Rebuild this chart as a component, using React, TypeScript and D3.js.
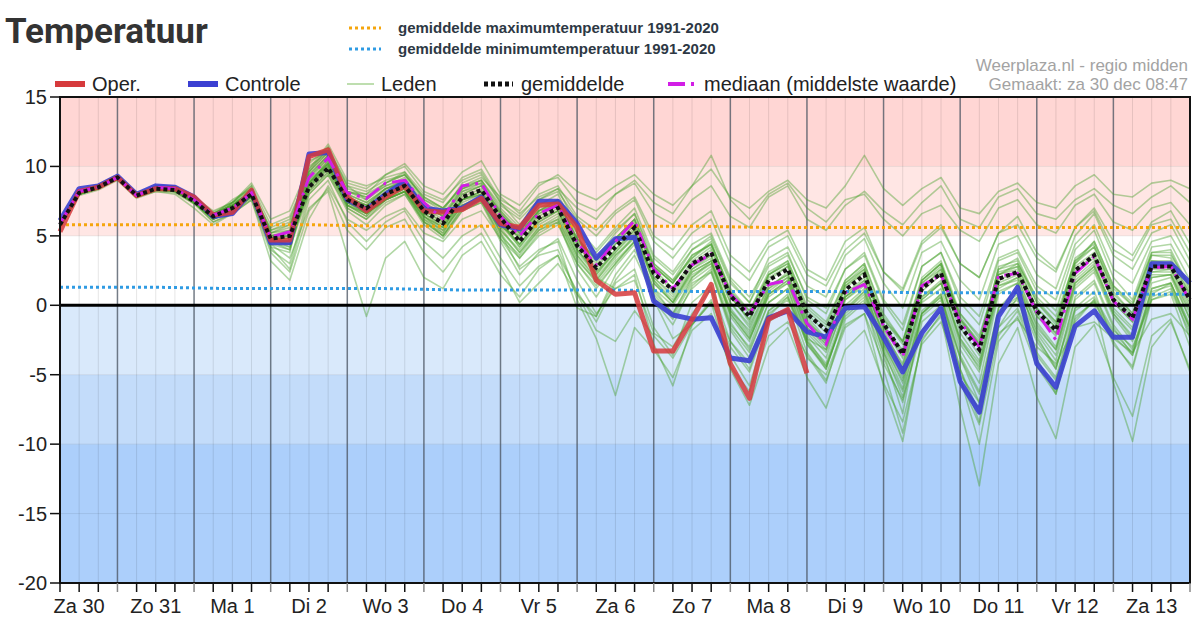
import * as d3 from "d3";

// 6-hourly steps from Za 30 06:00 up to Zo 14 00:00 (60 points)
const dayLabels = ["Za 30", "Zo 31", "Ma 1", "Di 2", "Wo 3", "Do 4", "Vr 5", "Za 6", "Zo 7", "Ma 8", "Di 9", "Wo 10", "Do 11", "Vr 12", "Za 13"];

const operValues = [5.3, 8.2, 8.5, 9.2, 7.9, 8.4, 8.4, 7.8, 6.5, 6.7, 8.3, 4.7, 4.7, 10.7, 11.2, 7.8, 6.8, 7.8, 8.6, 6.8, 6.7, 6.9, 7.7, 5.9, 5.6, 7.2, 7.3, 5.6, 1.8, 0.8, 0.9, -3.3, -3.3, -1.0, 1.5, -4.2, -6.7, -1.0, -0.3, -4.9];

const controleValues = [6.1, 8.4, 8.6, 9.3, 8.0, 8.6, 8.5, 7.8, 6.4, 6.6, 8.2, 4.5, 4.5, 10.9, 11.0, 7.6, 6.9, 8.0, 8.9, 7.0, 6.8, 7.0, 7.8, 5.8, 5.5, 7.5, 7.5, 5.9, 3.4, 4.8, 4.9, 0.3, -0.7, -1.0, -0.9, -3.8, -4.0, -0.9, -0.4, -1.9, -2.3, -0.2, -0.1, -2.3, -4.8, -2.0, -0.2, -5.5, -7.7, -0.8, 1.3, -4.2, -5.9, -1.5, -0.4, -2.3, -2.3, 3.0, 3.0, 1.6];

const gemiddeldeValues = [5.8, 8.1, 8.5, 9.2, 7.9, 8.4, 8.3, 7.5, 6.4, 7.0, 8.0, 4.8, 5.0, 8.5, 9.9, 7.6, 7.0, 8.0, 8.6, 6.8, 5.9, 7.8, 8.3, 6.3, 4.6, 6.3, 7.0, 4.3, 2.7, 4.2, 5.6, 2.3, 1.1, 3.0, 3.8, 0.7, -0.8, 1.8, 2.6, -0.6, -1.8, 1.1, 2.2, -1.3, -3.5, 1.2, 2.3, -1.5, -3.2, 1.9, 2.4, -0.4, -1.8, 2.5, 3.6, 0.4, -0.9, 2.8, 2.8, 0.4];

const mediaanValues = [5.9, 8.2, 8.5, 9.2, 7.9, 8.5, 8.4, 7.6, 6.5, 7.0, 8.1, 4.9, 5.3, 9.2, 10.6, 8.1, 7.7, 8.8, 9.0, 7.4, 6.2, 8.6, 8.8, 6.4, 5.0, 6.6, 7.2, 4.5, 2.9, 4.6, 6.1, 2.6, 1.2, 2.9, 3.7, 0.8, -0.6, 1.5, 1.8, -1.3, -2.8, 0.9, 1.5, -1.5, -3.7, 1.4, 2.2, -1.2, -3.0, 2.1, 2.3, -0.5, -2.5, 2.3, 3.5, 0.3, -1.0, 2.7, 2.8, 0.3];

// ensemble members (leden)
const leden = [
  [5.7, 8.0, 8.6, 9.3, 8.0, 8.5, 8.5, 7.6, 6.6, 7.2, 8.4, 5.2, 5.6, 10.2, 11.4, 8.6, 7.6, 8.8, 9.6, 8.0, 7.4, 9.2, 9.8, 7.6, 6.8, 8.6, 9.4, 8.2, 7.6, 8.6, 9.4, 8.0, 7.2, 8.6, 9.8, 7.8, 7.0, 8.2, 9.0, 7.6, 7.0, 8.6, 10.8, 8.4, 7.2, 8.4, 9.2, 7.0, 6.6, 8.2, 8.8, 7.4, 7.0, 8.6, 9.4, 8.0, 7.8, 8.8, 9.0, 8.4],
  [5.9, 8.2, 8.4, 9.1, 7.8, 8.3, 8.2, 7.4, 6.2, 7.4, 8.8, 6.2, 6.8, 10.0, 11.0, 8.2, 8.0, 9.4, 10.2, 8.6, 8.0, 9.6, 10.4, 8.0, 7.2, 8.8, 9.2, 7.4, 6.8, 8.0, 8.8, 6.6, 5.8, 7.6, 8.6, 6.4, 5.6, 7.8, 8.6, 6.2, 5.4, 7.2, 8.2, 6.8, 5.8, 7.4, 8.6, 6.2, 5.6, 7.8, 8.4, 6.6, 6.2, 7.6, 8.4, 7.2, 6.6, 7.8, 8.6, 7.4],
  [5.6, 8.2, 8.5, 9.2, 7.9, 8.4, 8.4, 7.7, 6.4, 6.8, 8.2, 4.6, 4.4, 10.4, 11.0, 7.6, 6.6, 7.6, 8.4, 6.6, 6.6, 7.0, 7.8, 5.6, 5.0, 6.8, 7.2, 5.2, 2.0, 1.2, 1.8, -2.0, -3.0, -0.6, 1.2, -3.6, -5.8, -1.2, -0.2, -3.8, -5.0, -1.4, -0.6, -4.2, -6.8, -1.8, -0.4, -5.6, -7.4, -1.6, 0.6, -3.6, -5.4, -0.8, 0.2, -2.2, -3.6, 0.8, 1.6, -1.4],
  [5.8, 8.1, 8.6, 9.3, 8.0, 8.6, 8.5, 7.4, 6.2, 7.4, 8.6, 4.2, 3.8, 9.6, 11.4, 7.2, 6.4, 8.2, 9.0, 7.2, 6.4, 8.4, 8.8, 6.6, 5.2, 6.8, 7.6, 4.8, 3.2, 4.8, 6.2, 2.8, 1.6, 3.4, 4.6, 0.8, -1.2, 2.2, 3.0, -1.0, -2.6, 1.6, 2.8, -1.8, -4.4, 1.8, 3.0, -1.0, -3.0, 2.8, 3.2, 0.2, -1.4, 3.4, 4.4, 1.0, -0.6, 3.6, 3.4, 0.8],
  [6.0, 8.3, 8.4, 9.1, 7.8, 8.2, 8.1, 7.3, 6.5, 7.6, 8.4, 5.4, 5.8, 8.8, 10.4, 8.0, 7.4, 8.4, 9.0, 6.4, 5.2, 7.6, 8.2, 6.0, 4.2, 6.0, 6.8, 3.8, 2.2, 4.0, 5.6, 1.6, 0.2, 2.6, 3.4, -0.4, -2.2, 1.0, 2.0, -1.8, -3.2, 0.6, 1.8, -2.6, -5.2, 0.4, 1.6, -2.4, -4.6, 1.2, 2.0, -1.6, -3.2, 1.6, 2.8, -0.6, -2.2, 2.0, 2.2, -0.6],
  [5.7, 7.9, 8.3, 9.0, 7.7, 8.2, 8.0, 7.0, 5.8, 6.6, 7.6, 3.2, 1.8, 6.2, 8.6, 6.2, 5.4, 6.4, 7.0, 5.2, 4.6, 6.2, 6.8, 4.8, 3.4, 5.0, 5.8, 3.0, 1.4, 3.0, 4.6, 1.2, 0.0, 2.0, 3.0, -0.6, -2.4, 0.6, 1.6, -2.2, -3.8, 0.4, 1.4, -3.0, -6.0, 0.2, 1.2, -3.2, -5.6, 0.8, 1.6, -2.0, -4.0, 1.2, 2.4, -0.8, -2.6, 1.6, 2.0, -1.0],
  [5.8, 8.0, 8.5, 9.2, 7.9, 8.4, 8.3, 7.6, 6.6, 7.2, 8.2, 4.4, 3.4, 7.0, 8.2, 3.6, -0.8, 3.4, 4.6, 2.0, 1.2, 3.6, 4.6, 2.2, 0.6, 2.6, 3.6, 1.0, -1.2, 1.6, 2.6, -1.6, -3.6, 0.2, 1.4, -2.6, -4.6, -0.4, 0.8, -2.8, -4.4, -0.6, 0.6, -3.4, -6.2, -0.8, 0.4, -3.8, -6.4, -0.4, 0.6, -2.6, -4.6, 0.6, 1.8, -1.4, -3.2, 1.2, 1.6, -1.6],
  [5.9, 8.2, 8.7, 9.4, 8.1, 8.6, 8.6, 7.8, 6.8, 7.4, 8.0, 5.6, 6.2, 9.8, 11.6, 9.0, 8.6, 9.2, 9.6, 7.6, 6.8, 8.8, 9.4, 7.4, 5.8, 7.6, 8.4, 5.6, 4.0, 5.6, 7.0, 3.6, 2.4, 4.4, 5.2, 2.0, 0.6, 3.0, 3.8, 0.4, -0.6, 2.6, 3.6, 0.2, -1.8, 2.8, 3.8, 0.2, -1.4, 3.2, 3.8, 1.0, -0.4, 4.0, 5.4, 2.0, 0.4, 4.2, 4.4, 1.8],
  [5.6, 8.1, 8.4, 9.1, 7.8, 8.3, 8.4, 7.5, 6.2, 6.8, 8.0, 4.8, 4.2, 9.0, 10.2, 7.0, 6.2, 7.6, 8.2, 6.0, 5.0, 7.0, 7.6, 4.8, 2.8, 4.0, 4.6, 0.4, -2.4, -6.5, -1.6, -3.2, -5.2, -1.8, -0.6, -4.4, -6.2, -2.2, -1.2, -3.6, -5.6, -1.0, 0.2, -3.8, -7.0, -1.2, 0.0, -4.6, -7.8, -1.6, -0.2, -3.4, -5.2, -0.4, 0.6, -1.8, -3.0, 0.4, 1.0, -2.0],
  [5.8, 8.2, 8.6, 9.3, 8.0, 8.5, 8.4, 7.6, 6.4, 7.0, 8.2, 5.0, 5.4, 9.4, 10.8, 8.4, 8.0, 8.8, 9.4, 7.6, 7.0, 8.6, 9.2, 7.8, 6.6, 7.8, 8.4, 7.0, 6.2, 8.0, 9.0, 7.4, 6.6, 8.6, 10.8, 7.6, 6.2, 8.0, 8.8, 7.0, 6.0, 7.6, 8.0, 6.2, 5.0, 6.6, 7.2, 5.4, 4.6, 7.0, 7.6, 5.8, 5.2, 7.2, 8.0, 6.0, 5.4, 7.0, 7.4, 5.8],
  [5.7, 8.1, 8.5, 9.2, 7.9, 8.4, 8.2, 7.3, 6.0, 6.6, 7.8, 4.0, 3.0, 8.0, 9.4, 6.8, 5.8, 7.2, 8.0, 5.8, 4.8, 6.8, 7.4, 5.0, 3.6, 5.4, 6.0, 2.6, 0.6, 2.8, 4.4, 0.4, -1.4, 1.4, 2.6, -1.6, -3.4, 0.2, 1.2, -2.6, -4.2, -0.2, 1.0, -3.4, -7.8, -0.4, 0.8, -4.6, -8.4, -0.6, 0.4, -3.8, -6.4, -0.2, 1.0, -2.6, -4.6, 0.4, 0.8, -3.0],
  [5.8, 8.0, 8.4, 9.1, 7.8, 8.3, 8.2, 7.4, 6.2, 6.8, 7.8, 4.6, 4.0, 8.8, 10.0, 7.2, 6.4, 7.6, 8.2, 6.2, 5.4, 7.2, 7.8, 5.4, 4.0, 5.6, 6.2, 3.4, 1.6, 3.2, 4.6, 0.8, -0.8, 1.6, 2.4, -1.8, -3.8, -0.4, 0.6, -3.4, -5.4, -1.6, -0.6, -5.8, -9.8, -2.4, -0.8, -7.4, -13.0, -4.2, -1.6, -6.6, -9.6, -3.0, -1.4, -5.2, -8.0, -2.2, -1.0, -4.8],
  [5.9, 8.2, 8.6, 9.2, 7.9, 8.5, 8.4, 7.6, 6.6, 7.4, 8.6, 5.8, 6.4, 9.6, 11.0, 8.6, 8.2, 9.0, 9.4, 7.8, 7.0, 8.6, 9.0, 6.8, 5.2, 6.8, 7.6, 4.6, 3.4, 5.2, 6.6, 3.0, 1.8, 4.0, 5.0, 1.8, 0.2, 3.4, 4.2, 1.4, 0.6, 3.6, 4.8, 1.6, -0.2, 3.8, 4.6, 1.8, 0.4, 4.4, 5.0, 2.2, 1.2, 5.0, 6.6, 3.6, 2.6, 5.2, 5.8, 3.2],
  [5.6, 8.0, 8.4, 9.1, 7.8, 8.3, 8.3, 7.5, 6.3, 6.9, 7.9, 4.7, 4.6, 8.4, 10.0, 7.6, 6.8, 7.8, 8.4, 6.4, 5.6, 7.4, 8.0, 5.8, 4.4, 6.2, 7.0, 4.0, 2.4, 3.8, 5.4, 2.0, 0.8, 2.8, 3.6, 0.2, -1.4, 1.4, 2.2, -1.2, -2.8, 0.8, 2.0, -1.6, -3.2, 1.6, 2.6, -1.0, -2.6, 2.4, 2.8, -0.2, -1.6, 2.8, 3.8, 0.6, -0.8, 3.0, 2.8, 0.4],
  [5.8, 8.1, 8.5, 9.2, 7.9, 8.4, 8.3, 7.5, 6.5, 7.1, 8.1, 4.9, 5.0, 8.6, 10.2, 7.8, 7.2, 8.4, 8.8, 6.6, 5.8, 7.6, 8.0, 5.2, 2.6, 3.6, 4.0, 0.8, -1.8, -2.6, -0.4, -2.2, -3.8, -1.4, 0.2, -2.6, -4.2, -0.6, 0.4, -2.4, -3.2, 0.8, 1.8, -1.0, -2.6, 1.2, 2.6, -0.6, -2.2, 2.2, 2.6, -0.8, -2.0, 2.0, 3.2, 0.2, -1.2, 2.4, 2.6, 0.0],
  [5.7, 8.2, 8.6, 9.3, 8.0, 8.5, 8.4, 7.6, 6.4, 7.0, 8.0, 4.4, 4.0, 9.2, 10.8, 7.4, 6.6, 7.8, 8.6, 6.8, 6.0, 8.0, 8.6, 6.4, 4.8, 6.6, 7.2, 4.2, 2.8, 4.4, 5.8, 2.6, 1.2, 3.2, 4.2, 0.6, -1.0, 1.8, 2.8, -0.8, -2.4, 1.2, 2.4, -1.4, -3.6, 1.0, 2.2, -2.0, -4.0, 1.6, 2.2, -0.6, -2.0, 2.6, 3.6, 0.4, -1.0, 3.2, 3.0, 0.6],
  [5.8, 8.1, 8.5, 9.2, 7.9, 8.4, 8.3, 7.4, 6.2, 6.8, 7.8, 4.2, 2.6, 7.6, 9.0, 6.0, 4.6, 6.0, 6.8, 4.6, 3.4, 5.0, 5.8, 3.4, 1.4, 2.8, 3.6, -0.2, -0.8, 1.8, 3.6, 0.6, -1.0, 1.2, 2.4, -1.4, -3.0, 0.8, 1.8, -1.6, -3.0, 0.6, 1.6, -2.2, -4.8, 0.6, 1.8, -2.6, -4.4, 1.4, 2.0, -1.2, -3.0, 1.8, 3.0, -0.4, -1.8, 2.4, 2.4, -0.2],
  [5.9, 8.2, 8.5, 9.2, 7.9, 8.4, 8.4, 7.6, 6.6, 7.2, 8.2, 5.2, 5.8, 9.6, 11.0, 8.2, 7.6, 8.6, 9.0, 7.2, 6.4, 8.2, 8.6, 6.8, 5.4, 7.0, 7.6, 4.8, 3.4, 4.8, 6.2, 3.0, 1.8, 3.4, 4.4, 1.2, -0.4, 2.4, 3.2, 0.0, -1.2, 1.8, 3.0, -0.6, -2.6, 2.0, 3.2, -0.6, -2.4, 2.6, 3.0, 0.6, -0.8, 3.2, 4.2, 1.2, 0.0, 3.6, 3.6, 1.4],
  [5.7, 8.1, 8.4, 9.1, 7.8, 8.3, 8.2, 7.4, 6.2, 6.8, 7.8, 4.6, 4.4, 8.2, 9.6, 7.2, 6.6, 7.6, 8.2, 6.0, 5.2, 7.2, 7.6, 5.4, 3.8, 5.4, 6.2, 3.2, 1.8, 3.6, 4.8, 0.4, -2.4, -1.4, 0.2, -4.6, -7.2, -3.0, -1.6, -5.2, -7.4, -3.2, -1.8, -5.6, -8.4, -2.8, -1.2, -5.0, -7.0, -2.0, -1.0, -3.0, -4.2, -1.6, -1.2, -2.4, -3.4, -1.0, -0.6, -2.2],
  [5.8, 8.0, 8.5, 9.2, 7.9, 8.4, 8.3, 7.5, 6.4, 7.0, 8.0, 4.8, 4.8, 8.8, 10.2, 7.4, 6.6, 7.8, 8.4, 6.2, 5.0, 6.8, 7.4, 4.6, 2.2, 3.8, 4.8, 1.8, -0.6, 1.2, 2.2, -2.8, -5.8, -1.4, 0.4, -3.0, -4.8, -0.8, 0.6, -2.6, -4.6, -0.4, 1.0, -2.8, -5.4, -0.6, 0.8, -3.6, -6.2, -0.2, 1.2, -1.8, -3.6, 1.4, 2.6, -0.6, -2.4, 2.0, 2.2, -1.0],
  [5.8, 8.1, 8.6, 9.2, 8.0, 8.5, 8.5, 7.7, 6.7, 7.4, 8.4, 5.4, 6.0, 9.8, 11.2, 8.8, 8.4, 9.4, 10.0, 8.2, 7.6, 9.0, 9.6, 7.4, 6.4, 8.0, 8.6, 6.4, 5.4, 6.8, 7.8, 5.0, 4.0, 5.8, 6.8, 3.6, 2.4, 4.6, 5.4, 2.6, 1.8, 4.6, 5.6, 2.4, 1.0, 4.4, 5.6, 3.0, 2.0, 5.2, 5.8, 3.4, 2.4, 5.6, 6.8, 4.0, 3.2, 5.8, 6.2, 3.8],
  [5.7, 8.0, 8.4, 9.1, 7.8, 8.3, 8.3, 7.5, 6.3, 6.9, 7.9, 4.7, 4.4, 8.6, 9.8, 7.4, 6.8, 7.6, 8.2, 6.4, 5.6, 7.6, 8.0, 5.8, 4.2, 5.8, 6.6, 3.6, 2.0, 3.6, 5.0, 1.8, 0.4, 2.4, 3.2, -0.2, -2.0, 0.8, 1.8, -2.0, -3.4, 0.0, 1.2, -2.8, -5.6, -0.6, 0.6, -5.2, -10.0, -2.6, -0.8, -4.4, -6.4, -1.2, 0.4, -2.8, -4.4, 0.6, 1.2, -1.6],
  [5.9, 8.2, 8.5, 9.2, 7.9, 8.4, 8.4, 7.6, 6.6, 7.2, 8.2, 5.0, 5.2, 9.0, 10.6, 8.0, 7.4, 8.4, 8.8, 7.0, 6.2, 8.0, 8.6, 6.6, 5.0, 6.6, 7.4, 4.6, 3.0, 4.6, 6.0, 2.8, 1.6, 3.6, 4.4, 1.0, -0.6, 2.2, 3.0, -0.4, -1.6, 1.6, 2.6, -1.0, -2.8, 1.6, 2.8, -1.2, -2.8, 2.2, 2.8, -0.2, -1.6, 3.0, 4.2, 0.8, -0.6, 3.2, 3.2, 0.8],
  [5.8, 8.1, 8.5, 9.2, 7.9, 8.4, 8.3, 7.5, 6.4, 7.0, 8.0, 4.8, 4.6, 8.4, 9.8, 7.6, 6.8, 8.0, 8.6, 6.6, 5.8, 7.6, 8.2, 6.0, 4.4, 6.2, 6.8, 4.0, 2.4, 4.0, 5.4, 2.0, 0.6, 2.6, 3.6, 0.2, -1.6, 1.4, 2.2, -1.6, -2.8, 0.6, 1.6, -2.0, -4.2, 0.6, 1.6, -2.4, -4.2, 1.4, 1.8, -2.4, -4.4, -0.2, 0.2, -5.6, -9.8, -3.0, -1.2, -4.6],
  [5.8, 8.1, 8.5, 9.2, 7.9, 8.4, 8.3, 7.5, 6.3, 6.9, 7.9, 4.6, 4.6, 8.2, 9.6, 7.2, 6.6, 7.6, 8.2, 6.4, 5.4, 7.2, 7.8, 5.6, 3.8, 5.6, 6.4, 3.6, 1.8, 3.4, 5.0, 1.6, 0.2, 2.2, 3.0, -0.4, -1.8, 1.2, 2.0, -1.4, -2.6, 0.4, 1.6, -2.2, -4.6, 0.4, 1.6, -2.8, -4.8, 1.0, 1.6, -1.4, -3.2, 1.6, 2.8, -0.2, -1.6, 2.2, 2.2, -0.4],
  [5.9, 8.2, 8.6, 9.3, 8.0, 8.5, 8.4, 7.7, 6.6, 7.2, 8.2, 5.2, 5.4, 9.4, 10.8, 8.2, 7.8, 8.6, 9.2, 7.4, 6.6, 8.4, 9.0, 7.0, 5.6, 7.2, 8.0, 5.2, 3.8, 5.4, 6.6, 3.4, 2.2, 4.0, 4.8, 1.6, 0.2, 2.8, 3.6, 0.6, -0.2, 2.6, 3.8, 0.4, -1.4, 2.8, 3.8, 0.6, -0.8, 3.4, 4.0, 1.4, 0.4, 4.4, 5.8, 2.6, 1.6, 4.6, 5.0, 2.6],
  [5.7, 8.0, 8.4, 9.1, 7.8, 8.3, 8.2, 7.4, 6.0, 6.6, 7.6, 3.8, 2.4, 6.8, 8.4, 5.4, 4.0, 5.6, 6.2, 3.8, 2.4, 4.2, 5.2, 2.8, 0.2, 1.6, 3.0, 0.8, -0.8, 2.2, 4.0, 1.0, -0.6, 2.0, 3.2, -0.8, -2.6, 1.2, 2.4, -1.2, -2.4, 1.4, 2.6, -1.6, -3.8, 1.8, 3.0, -0.8, -2.8, 2.6, 3.4, 0.4, -1.2, 3.0, 4.6, 1.4, 0.0, 3.8, 4.0, 1.2],
  [5.8, 8.2, 8.5, 9.2, 7.9, 8.4, 8.4, 7.6, 6.5, 7.1, 8.1, 5.0, 5.2, 8.8, 10.4, 7.8, 7.2, 8.2, 8.8, 6.8, 6.0, 7.8, 8.4, 6.2, 4.8, 6.4, 7.2, 4.4, 2.6, 4.4, 5.8, 2.4, 1.0, 3.0, 4.0, 0.6, -1.0, 2.0, 2.8, -0.6, -2.0, 1.4, 2.4, -1.4, -3.4, 1.4, 2.4, -1.6, -3.6, 1.8, 2.4, -0.8, -2.2, 2.4, 3.4, 0.2, -1.2, 2.6, 2.6, 0.2],
  [5.8, 8.1, 8.5, 9.2, 7.9, 8.4, 8.3, 7.5, 6.4, 7.0, 8.0, 4.8, 4.8, 8.6, 10.0, 7.6, 7.0, 8.0, 8.6, 6.6, 5.6, 7.6, 8.2, 6.0, 4.4, 6.0, 6.8, 4.0, 2.2, 3.8, 5.2, 1.8, 0.2, 2.4, 3.2, -0.6, -2.4, 0.8, 1.6, -2.4, -4.4, -0.8, 0.4, -4.6, -9.2, -2.6, -0.6, -5.4, -8.6, -2.2, -0.4, -4.0, -6.2, -1.0, 0.4, -2.0, -3.4, 1.0, 1.4, -2.4],
  [5.9, 8.1, 8.6, 9.2, 8.0, 8.5, 8.4, 7.6, 6.5, 7.2, 8.2, 5.0, 5.0, 9.2, 10.6, 7.8, 7.2, 8.4, 9.0, 7.2, 6.4, 8.2, 8.8, 6.6, 5.2, 6.8, 7.4, 4.8, 3.2, 4.8, 6.2, 2.8, 1.6, 3.6, 4.4, 1.0, -0.4, 2.2, 3.2, -0.2, -1.4, 1.8, 3.0, -0.8, -2.6, 1.8, 3.0, -1.0, -2.8, 2.2, 3.0, 0.2, -1.2, 3.2, 4.6, 1.4, 0.2, 3.8, 3.8, 1.0],
  [5.7, 8.0, 8.5, 9.2, 7.9, 8.4, 8.3, 7.5, 6.4, 7.0, 8.0, 4.8, 5.0, 8.8, 10.2, 8.2, 7.8, 8.8, 9.4, 7.8, 7.0, 8.4, 9.0, 7.2, 6.2, 7.6, 8.2, 6.2, 5.0, 6.6, 7.6, 4.6, 3.4, 5.2, 6.2, 3.0, 1.8, 4.2, 5.0, 2.2, 1.4, 4.0, 5.2, 2.4, 1.2, 4.6, 5.8, 3.0, 2.0, 5.2, 6.4, 3.8, 2.6, 5.6, 7.0, 4.6, 3.6, 6.0, 6.8, 4.4],
  [5.8, 8.1, 8.5, 9.2, 7.9, 8.4, 8.3, 7.5, 6.3, 6.9, 7.9, 4.5, 4.2, 8.0, 9.4, 7.0, 6.2, 7.4, 8.0, 6.0, 5.0, 7.0, 7.6, 5.2, 3.4, 5.2, 6.0, 3.0, 1.2, 3.0, 4.6, 1.2, -0.6, 1.8, 2.8, -1.2, -3.2, 0.2, 1.2, -2.8, -4.6, -0.4, 0.8, -3.2, -6.6, -0.6, 0.6, -3.8, -7.0, -0.2, 0.8, -2.2, -4.6, 0.4, 1.6, -1.6, -3.6, 1.2, 1.6, -1.8],
];

// daily climate normals 1991-2020
const normaalMax = [5.8, 5.8, 5.8, 5.8, 5.7, 5.7, 5.7, 5.7, 5.7, 5.6, 5.6, 5.6, 5.6, 5.6, 5.6];
const normaalMin = [1.3, 1.3, 1.2, 1.2, 1.2, 1.1, 1.1, 1.1, 1.0, 1.0, 1.0, 0.9, 0.9, 0.9, 0.8];

const yTicks = [15, 10, 5, 0, -5, -10, -15, -20];

const BANDS: [number, number, string][] = [
  [10, 15, "#ffd6d4"],
  [5, 10, "#ffe6e4"],
  [0, 5, "#ffffff"],
  [-5, 0, "#d9e9fb"],
  [-10, -5, "#c3dcfa"],
  [-20, -10, "#accffb"],
];

const FONT = "'Liberation Sans', Arial, Helvetica, sans-serif";

export default function App() {
  const width = 1200;
  const height = 631;
  const steps = d3.range(60);

  const x = d3.scaleLinear().domain([0, 59]).range([60, 1190]);
  const y = d3.scaleLinear().domain([-20, 15]).range([583, 97]);

  const line = d3
    .line<number>()
    .x((_, i) => x(i))
    .y((d) => y(d));

  const normLine = d3
    .line<[number, number]>()
    .x((d) => x(d[0]))
    .y((d) => y(d[1]));

  const normPoints = (vals: number[]): [number, number][] => [
    [0, vals[0]],
    ...vals.map((v, k) => [1 + 4 * k, v] as [number, number]),
    [59, vals[vals.length - 1]],
  ];

  const dayBounds = d3.range(3, 59, 4);

  return (
    <div style={{ position: "absolute", left: 0, top: 0 }}>
      <svg width={width} height={height} style={{ display: "block", background: "#fff" }} fontFamily={FONT}>
        {/* title and climate legend */}
        <text x={5} y={43} fontFamily="Roboto, 'Liberation Sans', Arial" fontWeight={700} fontSize={35} fill="#333">
          Temperatuur
        </text>
        <line x1={349} x2={381} y1={28} y2={28} stroke="#f5a50c" strokeWidth={3} strokeDasharray="3 3" />
        <text x={398} y={33} fontSize={15} fontWeight={700} fill="#2d3844">
          gemiddelde maximumtemperatuur 1991-2020
        </text>
        <line x1={349} x2={381} y1={49} y2={49} stroke="#2f9be3" strokeWidth={3} strokeDasharray="3 3" />
        <text x={398} y={54} fontSize={15} fontWeight={700} fill="#2d3844">
          gemiddelde minimumtemperatuur 1991-2020
        </text>

        <text x={1188} y={71} fontSize={17} fill="#a3a3a3" textAnchor="end">
          Weerplaza.nl - regio midden
        </text>
        <text x={1188} y={90} fontSize={17} fill="#a3a3a3" textAnchor="end">
          Gemaakt: za 30 dec 08:47
        </text>

        {/* series legend */}
        <g fontSize={20} fill="#222">
          <line x1={55} x2={85} y1={84} y2={84} stroke="#d63a3c" strokeWidth={6} />
          <text x={92} y={91}>Oper.</text>
          <line x1={188} x2={218} y1={84} y2={84} stroke="#3b3fd2" strokeWidth={6} />
          <text x={225} y={91}>Controle</text>
          <line x1={347} x2={374} y1={84} y2={84} stroke="#a9d394" strokeWidth={1.5} />
          <text x={381} y={91}>Leden</text>
          <line x1={484} x2={513} y1={84} y2={84} stroke="#111" strokeWidth={5} strokeDasharray="4 3" />
          <text x={521} y={91}>gemiddelde</text>
          <line x1={668} x2={697} y1={84} y2={84} stroke="#d21ee6" strokeWidth={4} strokeDasharray="17 6 3 6" />
          <text x={704} y={91}>mediaan (middelste waarde)</text>
        </g>

        {/* temperature bands */}
        {BANDS.map(([lo, hi, c]) => (
          <rect key={lo} x={x(0)} y={y(hi)} width={x(59) - x(0)} height={y(lo) - y(hi)} fill={c} />
        ))}
        {yTicks.filter((t) => t !== 0 && t !== 15 && t !== -20).map((t) => (
          <line key={t} x1={x(0)} x2={x(59)} y1={y(t)} y2={y(t)} stroke="#000" strokeOpacity={0.08} />
        ))}

        {/* 6-hourly and daily grid */}
        {steps.map((i) => (
          <line key={i} x1={x(i)} x2={x(i)} y1={y(15)} y2={y(-20)} stroke="#000" strokeOpacity={0.1} />
        ))}
        {dayBounds.map((i) => (
          <line key={i} x1={x(i)} x2={x(i)} y1={y(15)} y2={y(-20)} stroke="#4d5866" strokeOpacity={0.75} strokeWidth={1.5} />
        ))}

        {/* ensemble members */}
        <g fill="none" stroke="#44a028" strokeOpacity={0.42} strokeWidth={1.6} strokeLinejoin="round">
          {leden.map((m, k) => (
            <path key={k} d={line(m) ?? ""} />
          ))}
        </g>

        {/* climate normals */}
        <path d={normLine(normPoints(normaalMax)) ?? ""} fill="none" stroke="#f5a50c" strokeWidth={3} strokeDasharray="3 3" />
        <path d={normLine(normPoints(normaalMin)) ?? ""} fill="none" stroke="#2f9be3" strokeWidth={3} strokeDasharray="3 3" />

        {/* zero line */}
        <line x1={x(0)} x2={x(59)} y1={y(0)} y2={y(0)} stroke="#000" strokeWidth={3} />

        <path d={line(controleValues) ?? ""} fill="none" stroke="#3b3fd2" strokeOpacity={0.9} strokeWidth={5} strokeLinejoin="round" />
        <path d={line(operValues) ?? ""} fill="none" stroke="#d63a3c" strokeOpacity={0.85} strokeWidth={5} strokeLinejoin="round" />
        <path d={line(mediaanValues) ?? ""} fill="none" stroke="#d21ee6" strokeWidth={3} strokeDasharray="17 6 3 6" />
        <path d={line(gemiddeldeValues) ?? ""} fill="none" stroke="#111" strokeWidth={4} strokeDasharray="4 3" />

        {/* frame */}
        <rect x={x(0)} y={y(15)} width={x(59) - x(0)} height={y(-20) - y(15)} fill="none" stroke="#111" strokeWidth={2} />

        {/* y axis */}
        {yTicks.map((t) => (
          <g key={t}>
            <line x1={50} x2={x(0)} y1={y(t)} y2={y(t)} stroke="#111" strokeWidth={1.5} />
            <text x={47} y={y(t) + 7} fontSize={20} textAnchor="end" fill="#222">
              {t}
            </text>
          </g>
        ))}

        {/* x axis */}
        {steps.map((i) => (
          <line
            key={i}
            x1={x(i)}
            x2={x(i)}
            y1={y(-20)}
            y2={y(-20) + 9}
            stroke={(i - 3) % 4 === 0 ? "#888" : "#111"}
            strokeWidth={1.5}
          />
        ))}
        {dayLabels.map((d, k) => (
          <text key={d} x={x(1 + 4 * k)} y={613} fontSize={20} textAnchor="middle" fill="#222">
            {d}
          </text>
        ))}
      </svg>
    </div>
  );
}
